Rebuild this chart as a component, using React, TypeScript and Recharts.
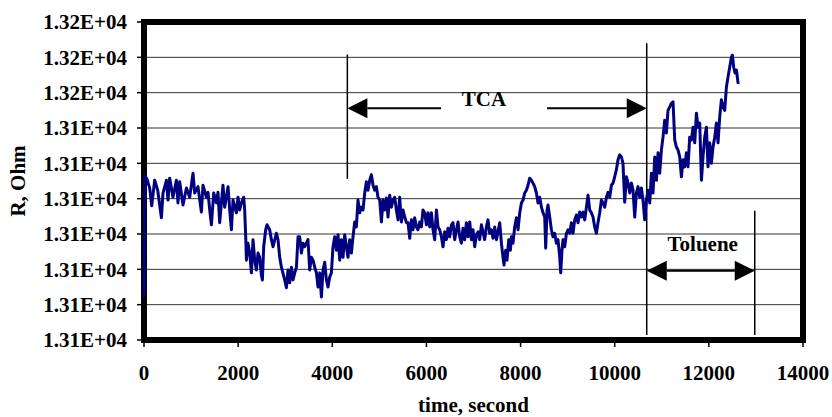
import React from "react";
import {
  LineChart,
  Line,
  XAxis,
  YAxis,
  CartesianGrid,
  ReferenceArea,
  ReferenceLine,
  Label,
} from "recharts";

// time in seconds
const timeSec = [
  0, 15, 57, 121, 164, 227, 291, 370, 404, 476, 510, 546, 616, 688, 722, 758, 829, 901, 971, 1041,
  1077, 1147, 1219, 1253, 1326, 1360, 1396, 1432, 1481, 1538, 1572, 1608, 1678, 1714, 1785, 1821,
  1857, 1891, 1963, 1997, 2033, 2069, 2118, 2139, 2161, 2176, 2209, 2246, 2282, 2316, 2352, 2388,
  2422, 2458, 2494, 2515, 2543, 2585, 2613, 2670, 2707, 2741, 2813, 2847,
  2883, 2919, 2989, 3025, 3059, 3095, 3132, 3166, 3202, 3238, 3272, 3308, 3344, 3378, 3414, 3450,
  3484, 3520, 3556, 3590, 3627, 3663, 3697, 3733, 3769, 3803, 3839, 3875, 3909, 3945, 3981, 4015,
  4052, 4088, 4122, 4158, 4194, 4228, 4264, 4300, 4334, 4370, 4406, 4440, 4476, 4512, 4546, 4583,
  4619, 4653, 4689, 4725, 4759, 4795, 4831, 4865, 4901, 4937, 4971, 5008, 5044, 5078, 5114, 5150,
  5184, 5220, 5256, 5290, 5326, 5362, 5396, 5432, 5468, 5502, 5539, 5575, 5609, 5645, 5681,
  5715, 5751, 5787, 5821, 5857, 5893, 5927, 5963, 6000, 6034, 6070, 6106, 6140, 6176, 6212, 6246,
  6282, 6318, 6352, 6388, 6424, 6458, 6495, 6531, 6565, 6601, 6637, 6671, 6707, 6743, 6777, 6813,
  6849, 6883, 6920, 6956, 6990, 7026, 7062, 7096, 7132, 7168, 7202, 7238, 7274, 7308, 7344, 7381,
  7415, 7451, 7487, 7521, 7557, 7593, 7627, 7648, 7684, 7712, 7748, 7784, 7805, 7839, 7875, 7912,
  7946, 7982, 8018, 8052, 8088, 8124, 8158, 8194, 8230, 8264, 8300, 8337, 8371, 8407, 8443, 8477,
  8513, 8534, 8562,
  8583, 8619, 8655, 8689, 8725, 8761, 8795, 8832, 8853, 8880, 8902, 8938, 8974, 9008, 9044, 9080,
  9114, 9150, 9186, 9220, 9256, 9293, 9327, 9363, 9399, 9433, 9469, 9505, 9539, 9575, 9611, 9645,
  9681, 9717, 9751, 9788, 9824, 9858, 9894, 9930, 9964, 10000, 10036, 10070, 10106, 10142, 10176,
  10212, 10249, 10283, 10319, 10355, 10389, 10425, 10461, 10495, 10531, 10567, 10601, 10637,
  10673, 10708, 10744, 10780, 10814, 10850, 10886, 10920, 10956, 10992, 11026, 11062, 11098, 11132,
  11169, 11205, 11239, 11275, 11311, 11345, 11381, 11417, 11451, 11487, 11523, 11557, 11593, 11630,
  11664, 11700, 11736, 11770, 11806, 11842, 11876, 11912, 11948, 11982, 12018, 12054, 12088, 12125,
  12161, 12195, 12231, 12267, 12301, 12337, 12373, 12407, 12443, 12479, 12500, 12528, 12556, 12586,
  12620, 12641,
];

// resistance in ohm, same order as timeSec
const resistanceOhm = [
  13121.1, 13138.2, 13137.9, 13136.5, 13134.0, 13137.6, 13136.2, 13132.3, 13135.8, 13137.6, 13134.8,
  13137.9, 13135.2, 13137.6, 13134.4, 13137.4, 13134.1, 13136.5, 13135.2, 13138.6, 13135.8, 13136.7,
  13133.1, 13136.9, 13135.2, 13135.9, 13133.4, 13131.3, 13135.8, 13134.4, 13135.9, 13131.6, 13136.9,
  13133.8, 13136.7, 13133.4, 13130.6, 13134.8, 13133.0, 13135.2, 13133.4, 13134.4, 13135.2, 13133.4,
  13129.6, 13126.3, 13128.7, 13127.3, 13124.5, 13129.2, 13126.3, 13124.9, 13127.3, 13126.7, 13124.2,
  13123.5, 13128.2, 13130.6, 13131.3, 13130.6, 13129.2, 13128.2, 13130.1, 13129.2,
  13126.7, 13125.3, 13123.5, 13122.4, 13124.9, 13123.1, 13125.3, 13123.5, 13124.5, 13125.3, 13129.6,
  13129.6, 13127.3, 13128.7, 13128.2, 13128.7, 13129.2, 13124.9, 13126.7, 13126.3, 13125.3, 13124.5,
  13122.5, 13124.5, 13121.1, 13124.9, 13126.0, 13123.5, 13122.5, 13123.9, 13124.5, 13128.2, 13129.6,
  13127.7, 13129.9, 13126.3, 13129.2, 13126.7, 13129.9, 13128.2, 13126.7, 13129.2, 13127.3, 13129.6,
  13131.7, 13131.0, 13134.8, 13133.0, 13133.8, 13133.4, 13135.8, 13137.4, 13136.2, 13137.6, 13138.4,
  13136.9, 13136.2, 13136.7, 13135.2, 13134.8, 13131.7, 13134.8, 13133.4, 13135.1, 13132.4, 13135.5,
  13133.8, 13134.8, 13135.2, 13133.4, 13132.0, 13135.2, 13131.7, 13133.4, 13132.4, 13131.6, 13131.6,
  13129.4, 13132.0,
  13130.6, 13132.3, 13131.0, 13130.6, 13131.7, 13131.0, 13133.4, 13133.0, 13131.3, 13133.0, 13131.0,
  13133.0, 13130.6, 13129.2, 13133.4, 13131.0, 13130.6, 13129.6, 13128.2, 13130.3, 13129.2, 13130.8,
  13129.6, 13131.3, 13131.6, 13129.2, 13130.6, 13131.7, 13129.6, 13128.7, 13130.8, 13129.2, 13131.6,
  13129.6, 13131.7, 13129.2, 13130.6, 13128.2, 13129.9, 13130.3, 13129.2, 13131.3, 13130.3, 13129.2,
  13131.0, 13132.0, 13130.1, 13130.6, 13129.4, 13131.0, 13129.2, 13130.3, 13131.6, 13128.7, 13126.7,
  13125.6, 13127.7, 13126.3, 13129.2, 13127.7, 13129.6, 13128.7, 13131.0, 13132.3, 13130.6, 13133.0,
  13134.4, 13134.8, 13135.8, 13136.2, 13136.9, 13137.9, 13137.6, 13137.2, 13136.7, 13135.8, 13134.4,
  13135.2, 13133.8, 13133.0, 13132.4, 13128.0, 13133.4,
  13134.1, 13132.4, 13130.6, 13129.6, 13130.1, 13128.7, 13129.2, 13126.7, 13124.5, 13127.7, 13129.2,
  13128.2, 13130.1, 13130.6, 13130.1, 13131.6, 13130.1, 13132.0, 13132.7, 13131.6, 13133.1, 13132.4,
  13133.1, 13132.0, 13133.8, 13135.5, 13133.4, 13133.0, 13132.4, 13131.0, 13130.1, 13131.6, 13133.0,
  13134.8, 13134.4, 13133.8, 13135.2, 13135.9, 13135.2, 13136.9, 13137.2, 13138.1, 13139.1, 13140.5,
  13141.2, 13140.9, 13140.0, 13134.5, 13138.1, 13137.2, 13135.8, 13137.2, 13136.2, 13132.4, 13135.8,
  13136.7, 13135.2, 13136.5, 13134.8, 13132.0,
  13134.8, 13136.2, 13134.4, 13138.6, 13135.8, 13140.9, 13137.6, 13141.5, 13138.6, 13141.9, 13143.7,
  13146.1, 13144.3, 13147.5, 13148.0, 13148.5, 13148.7, 13143.3, 13142.3, 13141.9, 13140.9, 13138.1,
  13140.5, 13139.5, 13141.5, 13139.5, 13143.7, 13143.3, 13145.1, 13142.9, 13147.1, 13145.1, 13145.7,
  13137.6, 13140.9, 13143.7, 13145.1, 13139.5, 13142.9, 13140.0, 13142.3, 13143.7, 13145.7, 13142.9,
  13146.6, 13149.0, 13148.0, 13147.5, 13150.8, 13152.2, 13153.6, 13155.0, 13155.3, 13153.6, 13152.8,
  13153.2, 13151.4, 13151.5,
];

const xTicks = [0, 2000, 4000, 6000, 8000, 10000, 12000, 14000];
const yTicks = [13115, 13120, 13125, 13130, 13135, 13140, 13145, 13150, 13155, 13160];

// annotation marks (seconds / ohm)
const tcaStart = 4320;
const tolueneStart = 10680;
const tolueneEnd = 12975;
const tcaArrowY = 13147.8;
const tolueneArrowY = 13124.8;

const data = timeSec.map((t, i) => ({ t, r: resistanceOhm[i] }));

const FONT = "'Liberation Serif', 'Times New Roman', serif";
const tickStyle = { fontFamily: FONT, fontSize: 21, fontWeight: "bold", fill: "#000" };

const fmtSci = (v: number) => {
  const [m, e] = v.toExponential(2).split("e");
  return `${m}E+${String(Math.abs(Number(e))).padStart(2, "0")}`;
};

function DoubleArrow(props: any) {
  const { x1, y1, x2, text, gapL, gapR, textDx, textDy } = props;
  const y = y1;
  const left = Math.min(x1, x2);
  const right = Math.max(x1, x2);
  const mid = (left + right) / 2;
  const head = 20;
  const hw = 10;
  return (
    <g>
      {gapL != null ? (
        <>
          <line x1={left + head} y1={y} x2={mid - gapL} y2={y} stroke="#000" strokeWidth={2} />
          <line x1={mid + gapR} y1={y} x2={right - head} y2={y} stroke="#000" strokeWidth={2} />
        </>
      ) : (
        <line x1={left + head} y1={y} x2={right - head} y2={y} stroke="#000" strokeWidth={2} />
      )}
      <polygon points={`${left},${y} ${left + head},${y - hw} ${left + head},${y + hw}`} fill="#000" />
      <polygon points={`${right},${y} ${right - head},${y - hw} ${right - head},${y + hw}`} fill="#000" />
      <text
        x={mid + textDx}
        y={y + textDy}
        textAnchor="middle"
        style={{ fontFamily: FONT, fontSize: 21, fontWeight: "bold", fill: "#000" }}
      >
        {text}
      </text>
    </g>
  );
}

export default function App() {
  return (
    <div style={{ position: "absolute", left: 0, top: 0, width: 832, height: 417, background: "#fff" }}>
      <LineChart width={832} height={417} data={data} margin={{ top: 22, right: 29, bottom: 0, left: 0 }}>
        <CartesianGrid vertical={false} stroke="#333" strokeWidth={1} />
        <XAxis
          dataKey="t"
          type="number"
          domain={[0, 14000]}
          ticks={xTicks}
          height={77}
          axisLine={false}
          tickLine={{ stroke: "#000", strokeWidth: 1.5 }}
          tickSize={7}
          tickMargin={18}
          tick={tickStyle}
          interval={0}
        >
          <Label
            value="time, second"
            position="insideBottom"
            offset={5}
            style={{ fontFamily: FONT, fontSize: 21, fontWeight: "bold", fill: "#000" }}
          />
        </XAxis>
        <YAxis
          type="number"
          domain={[13115, 13160]}
          ticks={yTicks}
          width={144}
          axisLine={false}
          tickLine={{ stroke: "#000", strokeWidth: 1.5 }}
          tickSize={7}
          tickMargin={10}
          tick={tickStyle}
          tickFormatter={fmtSci}
          interval={0}
        >
          <Label
            value="R, Ohm"
            angle={-90}
            position="insideLeft"
            offset={18}
            style={{ fontFamily: FONT, fontSize: 21, fontWeight: "bold", fill: "#000", textAnchor: "middle" }}
          />
        </YAxis>
        <ReferenceArea
          x1={0}
          x2={14000}
          y1={13115}
          y2={13160}
          fill="none"
          stroke="#000"
          strokeWidth={6}
          fillOpacity={0}
        />
        <ReferenceLine
          segment={[{ x: tcaStart, y: 13155.4 }, { x: tcaStart, y: 13137.8 }]}
          stroke="#000"
          strokeWidth={1.5}
        />
        <ReferenceLine
          segment={[{ x: tolueneStart, y: 13157.0 }, { x: tolueneStart, y: 13115.7 }]}
          stroke="#000"
          strokeWidth={1.5}
        />
        <ReferenceLine
          segment={[{ x: tolueneEnd, y: 13133.3 }, { x: tolueneEnd, y: 13115.7 }]}
          stroke="#000"
          strokeWidth={1.5}
        />
        <ReferenceLine
          segment={[{ x: tcaStart, y: tcaArrowY }, { x: tolueneStart, y: tcaArrowY }]}
          shape={(p: any) => <DoubleArrow {...p} text="TCA" gapL={56} gapR={50} textDx={-13} textDy={-2} />}
        />
        <ReferenceLine
          segment={[{ x: tolueneStart, y: tolueneArrowY }, { x: tolueneEnd, y: tolueneArrowY }]}
          shape={(p: any) => <DoubleArrow {...p} text="Toluene" textDx={2} textDy={-20} />}
        />
        <Line
          type="linear"
          dataKey="r"
          stroke="#000080"
          strokeWidth={3}
          strokeLinejoin="round"
          dot={false}
          activeDot={false}
          isAnimationActive={false}
        />
      </LineChart>
    </div>
  );
}
